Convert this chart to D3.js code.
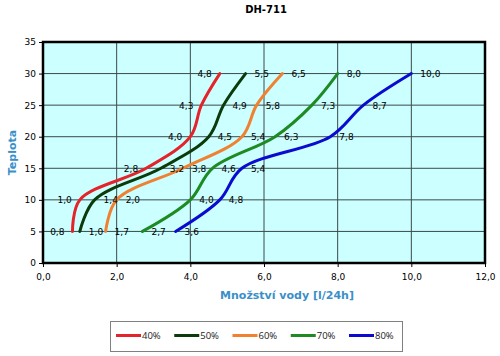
<!DOCTYPE html>
<html>
<head>
<meta charset="utf-8">
<script src="https://cdn.jsdelivr.net/npm/d3@7"></script>
<style>
  html, body { margin: 0; padding: 0; background: #ffffff; }
  svg { display: block; }
</style>
</head>
<body>
<div id="chart"></div>
<script>
// ---- data ----
const temperatures = [5, 10, 15, 20, 25, 30];
const seriesNames = ["40%", "50%", "60%", "70%", "80%"];
const values40 = [0.8, 1.0, 2.8, 4.0, 4.3, 4.8];
const values50 = [1.0, 1.4, 3.2, 4.5, 4.9, 5.5];
const values60 = [1.7, 2.0, 3.8, 5.4, 5.8, 6.5];
const values70 = [2.7, 4.0, 4.6, 6.3, 7.3, 8.0];
const values80 = [3.6, 4.8, 5.4, 7.8, 8.7, 10.0];
const xTicks = [0, 2, 4, 6, 8, 10, 12];
const yTicks = [0, 5, 10, 15, 20, 25, 30, 35];
const title = "DH-711";
const xTitle = "Množství vody [l/24h]";
const yTitle = "Teplota";

const allValues = [values40, values50, values60, values70, values80];
const colors = ["#e3242b", "#0b3b0b", "#f08131", "#1d8a22", "#0a0ad0"];
const labelLeft = [true, false, false, false, false];

// ---- layout ----
const W = 500, H = 356;
const plot = { left: 43, right: 485, top: 42, bottom: 263 };

const svg = d3.select("#chart").append("svg")
  .attr("width", W).attr("height", H);

const x = d3.scaleLinear().domain([0, 12]).range([plot.left, plot.right]);
const y = d3.scaleLinear().domain([0, 35]).range([plot.bottom, plot.top]);

const fmt = v => d3.format(".1f")(v).replace(".", ",");

// background
svg.append("rect")
  .attr("x", plot.left).attr("y", plot.top)
  .attr("width", plot.right - plot.left).attr("height", plot.bottom - plot.top)
  .attr("fill", "#ccffff");

// grid
svg.append("g").selectAll("line").data(xTicks.slice(1, -1)).join("line")
  .attr("x1", d => x(d)).attr("x2", d => x(d))
  .attr("y1", plot.top).attr("y2", plot.bottom)
  .attr("stroke", "#3a4a4a").attr("stroke-width", 1);
svg.append("g").selectAll("line").data(yTicks.slice(1, -1)).join("line")
  .attr("x1", plot.left).attr("x2", plot.right)
  .attr("y1", d => y(d)).attr("y2", d => y(d))
  .attr("stroke", "#3a4a4a").attr("stroke-width", 1);

// axes
const xAxis = d3.axisBottom(x).tickValues(xTicks).tickFormat(fmt).tickSize(4).tickPadding(7);
const yAxis = d3.axisLeft(y).tickValues(yTicks).tickFormat(d3.format("d")).tickSize(4).tickPadding(3);

const gx = svg.append("g").attr("transform", `translate(0,${plot.bottom})`).call(xAxis);
const gy = svg.append("g").attr("transform", `translate(${plot.left},0)`).call(yAxis);
[gx, gy].forEach(g => {
  g.select(".domain").remove();
  g.selectAll(".tick line").attr("stroke", "#000");
  g.selectAll(".tick text").attr("font-family", "DejaVu Sans, Verdana, sans-serif")
    .attr("font-size", 9).attr("fill", "#000");
});

// plot border
svg.append("rect")
  .attr("x", plot.left).attr("y", plot.top)
  .attr("width", plot.right - plot.left).attr("height", plot.bottom - plot.top)
  .attr("fill", "none").attr("stroke", "#000").attr("stroke-width", 2.5);

// lines
const line = d3.line()
  .x(d => x(d[0])).y(d => y(d[1]))
  .curve(d3.curveCatmullRom.alpha(0.5));

allValues.forEach((vals, i) => {
  const pts = vals.map((v, j) => [v, temperatures[j]]);
  svg.append("path").datum(pts)
    .attr("d", line)
    .attr("fill", "none")
    .attr("stroke", colors[i])
    .attr("stroke-width", 3)
    .attr("stroke-linecap", "round");
});

// data labels
allValues.forEach((vals, i) => {
  svg.append("g").selectAll("text").data(vals).join("text")
    .attr("x", d => labelLeft[i] ? x(d) - 8 : x(d) + 9)
    .attr("y", (d, j) => y(temperatures[j]) + 3.5)
    .attr("text-anchor", labelLeft[i] ? "end" : "start")
    .attr("font-family", "DejaVu Sans, Verdana, sans-serif")
    .attr("font-size", 9)
    .attr("fill", "#000")
    .text(d => fmt(d));
});

// titles
svg.append("text")
  .attr("x", 266).attr("y", 13)
  .attr("text-anchor", "middle")
  .attr("font-family", "DejaVu Sans, Verdana, sans-serif")
  .attr("font-weight", "bold").attr("font-size", 10)
  .attr("fill", "#000")
  .text(title);

svg.append("text")
  .attr("x", 287).attr("y", 299)
  .attr("text-anchor", "middle")
  .attr("font-family", "DejaVu Sans, Verdana, sans-serif")
  .attr("font-weight", "bold").attr("font-size", 11)
  .attr("fill", "#3a8fc8")
  .text(xTitle);

svg.append("text")
  .attr("transform", `translate(16,${(plot.top + plot.bottom) / 2}) rotate(-90)`)
  .attr("text-anchor", "middle")
  .attr("font-family", "DejaVu Sans, Verdana, sans-serif")
  .attr("font-weight", "bold").attr("font-size", 11)
  .attr("fill", "#3a8fc8")
  .text(yTitle);

// legend
const legend = svg.append("g");
legend.append("rect")
  .attr("x", 110.5).attr("y", 321.5).attr("width", 292).attr("height", 30)
  .attr("fill", "#fff").attr("stroke", "#808080").attr("stroke-width", 1);
const lx = d3.scalePoint().domain(seriesNames).range([116, 349]);
const items = legend.selectAll("g").data(seriesNames).join("g")
  .attr("transform", d => `translate(${lx(d)},335.5)`);
items.append("line")
  .attr("x1", 0).attr("x2", 25).attr("y1", 0).attr("y2", 0)
  .attr("stroke", (d, i) => colors[i]).attr("stroke-width", 3);
items.append("text")
  .attr("x", 26).attr("y", 3.5)
  .attr("font-family", "Open Sans, Noto Sans, sans-serif")
  .attr("font-size", 9.5).attr("fill", "#222")
  .text(d => d);
</script>
</body>
</html>
